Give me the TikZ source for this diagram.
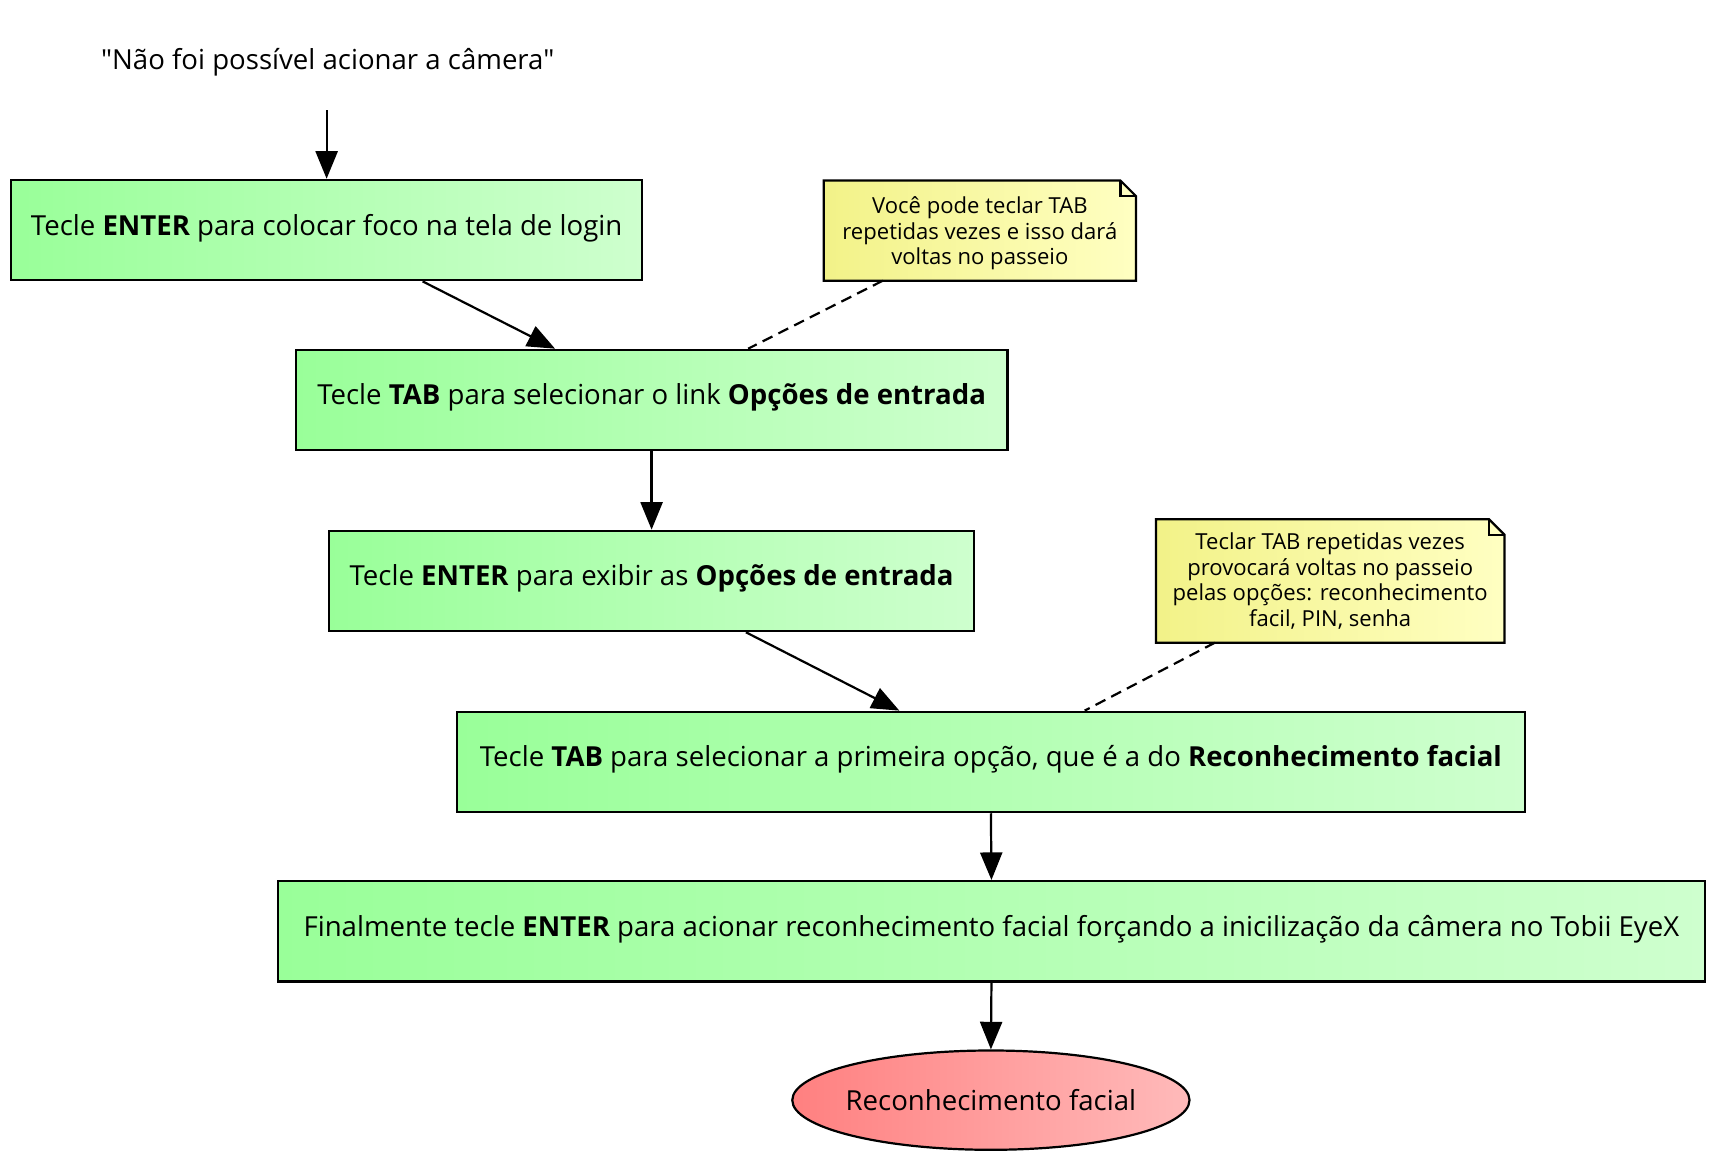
\documentclass[tikz,border=0pt]{standalone}
\usepackage{fontspec}
\setmainfont{Open Sans}
\newfontfamily\aspas{Open Sans}
\usetikzlibrary{arrows.meta,shapes.geometric,backgrounds}

\definecolor{passoA}{RGB}{153,255,153}
\definecolor{passoB}{RGB}{206,255,206}
\definecolor{notaA}{RGB}{242,242,136}
\definecolor{notaB}{RGB}{255,255,194}
\definecolor{fimA}{RGB}{255,128,128}
\definecolor{fimB}{RGB}{255,186,186}

\tikzset{
  passo/.style={draw, line width=1pt, left color=passoA, right color=passoB,
    minimum height=45.5pt, inner sep=0pt, text height=9pt, text depth=4.5pt,
    font=\fontsize{12.5}{15}\selectfont},
  nota/.style={inner sep=0pt, align=center, font=\fontsize{10}{11.5}\selectfont},
  seta/.style={line width=1pt, -{Triangle[length=12.5pt,width=10pt]}},
  tracejado/.style={line width=1pt, dash pattern=on 5pt off 3pt},
}

\begin{document}
\begin{tikzpicture}[x=0.5pt, y=-0.5pt]
  \useasboundingbox (0,0) rectangle (1566,1065);

  % inicio
  \node (rotulo) at (297,56) [font=\aspas\fontsize{12.5}{15}\selectfont]
    {"Não foi possível acionar a câmera"};
  \coordinate (ini) at (296,100);

  % passos
  \node (b1) at (296,208.5) [passo, minimum width=286pt]
    {Tecle \textbf{ENTER} para colocar foco na tela de login};
  \node (b2) at (590.5,362.5) [passo, minimum width=322.5pt]
    {Tecle \textbf{TAB} para selecionar o link \textbf{Opções de entrada}};
  \node (b3) at (590.5,526.5) [passo, minimum width=292.5pt]
    {Tecle \textbf{ENTER} para exibir as \textbf{Opções de entrada}};
  \node (b4) at (898,690.5) [passo, minimum width=484pt]
    {Tecle \textbf{TAB} para selecionar a primeira opção, que é a do \textbf{Reconhecimento facial}};
  \node (b5) at (898.5,844) [passo, minimum width=646.5pt]
    {Finalmente tecle \textbf{ENTER} para acionar reconhecimento facial forçando a inicilização da câmera no Tobii EyeX};
  \node (fim) at (898,997) [ellipse, draw, line width=1pt, left color=fimA, right color=fimB,
    minimum width=180pt, minimum height=45pt, inner xsep=-3pt, inner ysep=0pt,
    font=\fontsize{12.5}{15}\selectfont]
    {Reconhecimento facial};

  % notas
  \node (n1) at (888,209) [nota, minimum width=141pt, minimum height=45pt, text depth=0pt]
    {Você pode teclar TAB\\repetidas vezes e isso dará\\voltas no passeio};
  \node (n2) at (1205.5,526.5) [nota, minimum width=157.5pt, minimum height=55.5pt]
    {Teclar TAB repetidas vezes\\provocará voltas no passeio\\pelas opções: reconhecimento\\facil, PIN, senha};
  \begin{scope}[on background layer]
    \foreach \n in {n1,n2} {
      \shade[left color=notaA, right color=notaB, draw, line width=1pt]
        (\n.north west) -- ([xshift=-7pt]\n.north east) -- ([yshift=-7pt]\n.north east)
        -- (\n.south east) -- (\n.south west) -- cycle;
      \draw[line width=1pt] ([xshift=-7pt]\n.north east) -- ([xshift=-7pt,yshift=-7pt]\n.north east)
        -- ([yshift=-7pt]\n.north east);
    }
  \end{scope}

  % setas
  \draw [seta] (ini) -- (b1.north);
  \draw [seta] ([xshift=43.5pt]b1.south) -- ([xshift=-43.75pt]b2.north);
  \draw [seta] (b2.south) -- (b3.north);
  \draw [seta] ([xshift=42.75pt]b3.south) -- ([xshift=-41.5pt]b4.north);
  \draw [seta] (b4.south) -- (b5.north);
  \draw [seta] (b5.south) -- (fim.north);
  \draw [tracejado] ([xshift=-44pt]n1.south) -- ([xshift=43.75pt]b2.north);
  \draw [tracejado] ([xshift=-52.25pt]n2.south) -- ([xshift=42.5pt]b4.north);
\end{tikzpicture}
\end{document}
